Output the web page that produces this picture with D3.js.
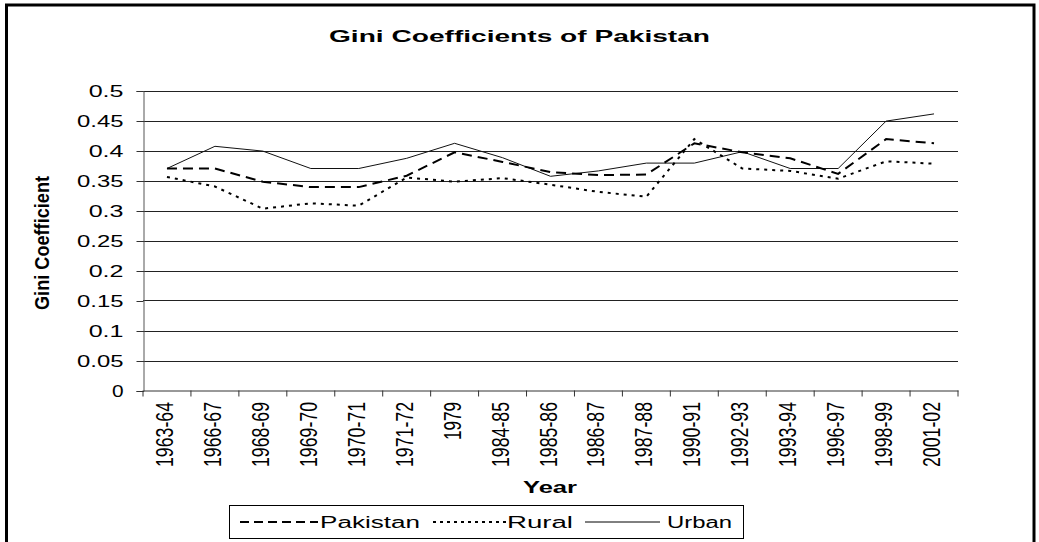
<!DOCTYPE html>
<html><head><meta charset="utf-8">
<script src="https://cdn.jsdelivr.net/npm/d3@7"></script>
<style>body{margin:0;background:#fff}svg{display:block;font-family:"Liberation Sans",Arial,sans-serif}</style>
</head><body>
<script>
const categories = ["1963-64","1966-67","1968-69","1969-70","1970-71","1971-72","1979","1984-85","1985-86","1986-87","1987-88","1990-91","1992-93","1993-94","1996-97","1998-99","2001-02"];
const pakistan = [0.37,0.37,0.348,0.339,0.339,0.358,0.397,0.381,0.364,0.359,0.36,0.412,0.397,0.387,0.361,0.419,0.412];
const rural    = [0.356,0.34,0.303,0.312,0.308,0.355,0.348,0.354,0.343,0.331,0.323,0.419,0.37,0.366,0.353,0.382,0.378];
const urban    = [0.37,0.407,0.399,0.37,0.37,0.387,0.412,0.388,0.357,0.366,0.379,0.379,0.398,0.37,0.37,0.449,0.461];
const yTicks = [0,0.05,0.1,0.15,0.2,0.25,0.3,0.35,0.4,0.45,0.5];
const seriesNames = ["Pakistan","Rural","Urban"];

const W=1039,H=542;
const svg=d3.select("body").append("svg").attr("width",W).attr("height",H);
// outer border
svg.append("rect").attr("x",6.5).attr("y",5).attr("width",1027.5).attr("height",H).attr("fill","#fff").attr("stroke","#000").attr("stroke-width",3);

const L=143,R=958,T=90.5,B=390.5;
const x=d3.scaleBand().domain(categories).range([L,R]).paddingInner(0).paddingOuter(0);
const y=d3.scaleLinear().domain([0,0.5]).range([B,T]);

// gridlines
svg.append("g").selectAll("line").data(yTicks.filter(d=>d>0)).join("line")
  .attr("x1",L).attr("x2",R).attr("y1",d=>Math.round(y(d))+0.5).attr("y2",d=>Math.round(y(d))+0.5)
  .attr("stroke","#222").attr("stroke-width",1);

// y axis
const ya=svg.append("g").attr("transform",`translate(${L+0.5},0.5)`)
  .call(d3.axisLeft(y).tickValues(yTicks).tickSize(7).tickFormat(d=>String(d)));
ya.select(".domain").attr("stroke","#555");
ya.selectAll(".tick line").attr("stroke","#333");
ya.selectAll(".tick text").attr("font-size",16).attr("fill","#000").attr("x",-20)
  .each(function(d){const s=String(d);d3.select(this).attr("textLength",s.length*11.6).attr("lengthAdjust","spacingAndGlyphs");});

// x axis
const xa=svg.append("g").attr("transform",`translate(0,${B})`)
  .call(d3.axisBottom(x).tickSize(0).tickFormat(""));
xa.select(".domain").attr("stroke","#333");
// boundary ticks
svg.append("g").selectAll("line").data(d3.range(categories.length+1)).join("line")
  .attr("x1",i=>L+i*x.step()).attr("x2",i=>L+i*x.step()).attr("y1",B).attr("y2",B+6)
  .attr("stroke","#333");
// x labels
svg.append("g").selectAll("text").data(categories).join("text")
  .attr("transform",d=>`translate(${x(d)+x.bandwidth()/2+6},${402}) scale(1.45,1) rotate(-90)`)
  .attr("text-anchor","end").attr("font-size",16).attr("fill","#000")
  .attr("textLength",d=>d.length===4?38:65).attr("lengthAdjust","spacingAndGlyphs")
  .text(d=>d);

// lines
const line=d3.line().x((d,i)=>x(categories[i])+x.bandwidth()/2).y(d=>y(d));
svg.append("path").datum(urban).attr("d",line).attr("fill","none").attr("stroke","#111").attr("stroke-width",1);
svg.append("path").datum(rural).attr("d",line).attr("fill","none").attr("stroke","#000").attr("stroke-width",2).attr("stroke-dasharray","3,5");
svg.append("path").datum(pakistan).attr("d",line).attr("fill","none").attr("stroke","#000").attr("stroke-width",2).attr("stroke-dasharray","10,6");

// title
svg.append("text").attr("x",329).attr("y",42).attr("font-size",17).attr("font-weight","bold")
  .attr("textLength",381).attr("lengthAdjust","spacingAndGlyphs").text("Gini Coefficients of Pakistan");
// y label
svg.append("text").attr("transform","translate(49,243) scale(1.45,1) rotate(-90)").attr("text-anchor","middle")
  .attr("font-size",14).attr("font-weight","bold").attr("textLength",134).attr("lengthAdjust","spacingAndGlyphs")
  .text("Gini Coefficient");
// x label
svg.append("text").attr("x",523).attr("y",493).attr("font-size",17).attr("font-weight","bold")
  .attr("textLength",54).attr("lengthAdjust","spacingAndGlyphs").text("Year");

// legend
const lg=svg.append("g");
lg.append("rect").attr("x",229.5).attr("y",505.5).attr("width",514).attr("height",33).attr("fill","#fff").attr("stroke","#000");
const legItems=[
  {name:seriesNames[0],x1:240,x2:318,tx:320,tw:100,dash:"9,5",sw:2},
  {name:seriesNames[1],x1:433,x2:506,tx:507,tw:66,dash:"3,4",sw:2},
  {name:seriesNames[2],x1:585,x2:660,tx:667,tw:65,dash:null,sw:1}
];
legItems.forEach(it=>{
  const l=lg.append("line").attr("x1",it.x1).attr("x2",it.x2).attr("y1",522).attr("y2",522).attr("stroke","#000").attr("stroke-width",it.sw);
  if(it.dash) l.attr("stroke-dasharray",it.dash);
  lg.append("text").attr("x",it.tx).attr("y",527.5).attr("font-size",16).attr("textLength",it.tw).attr("lengthAdjust","spacingAndGlyphs").text(it.name);
});
</script>
</body></html>
